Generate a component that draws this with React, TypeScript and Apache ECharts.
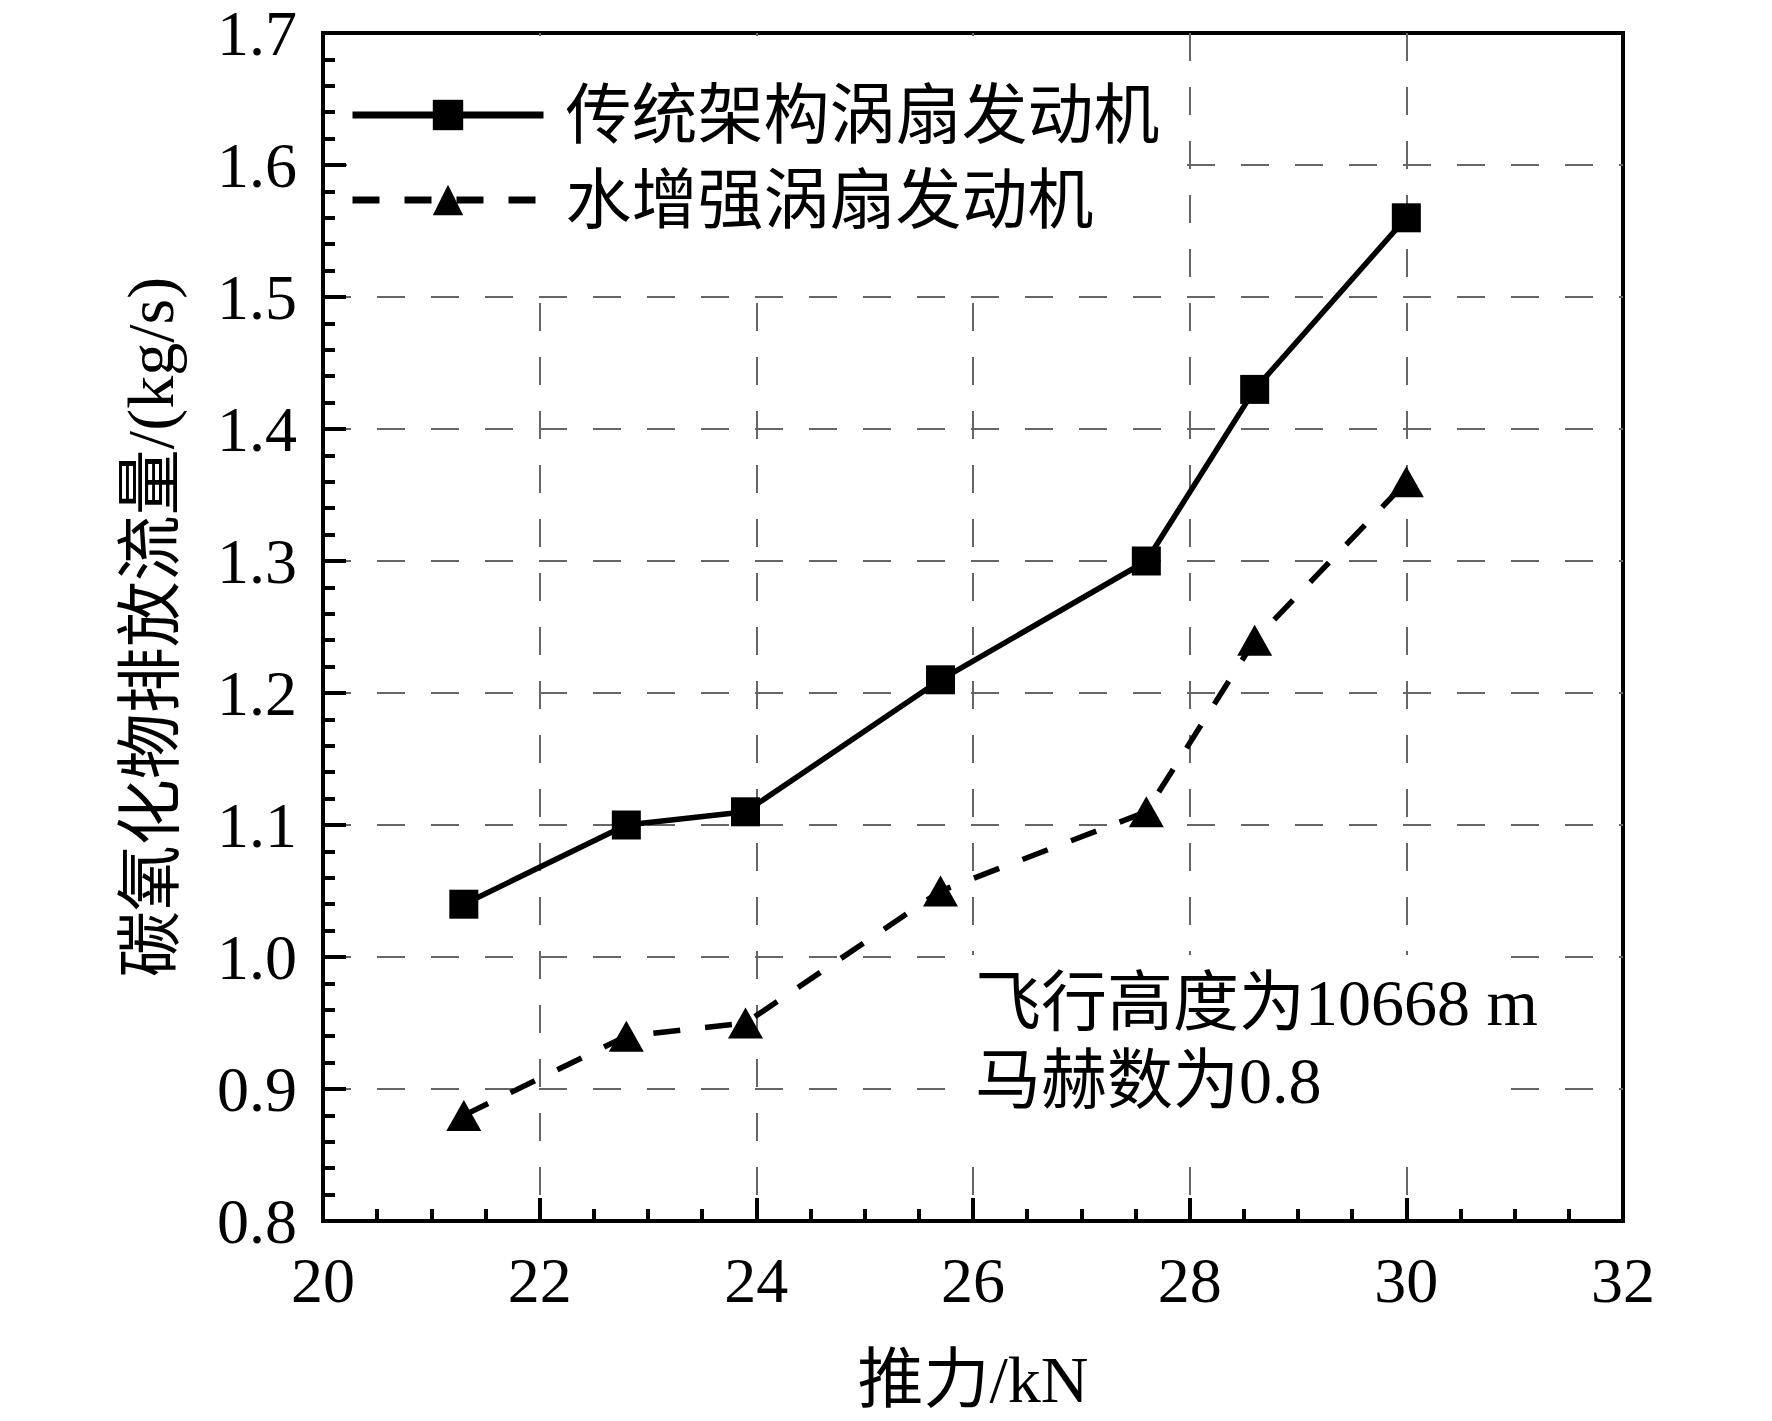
import React, { useEffect, useRef } from "react";
import * as echarts from "echarts";

const thrust = [21.3, 22.8, 23.9, 25.7, 27.6, 28.6, 30.0];
const conventional = [1.04, 1.10, 1.11, 1.21, 1.30, 1.43, 1.56];
const waterEnhanced = [0.88, 0.94, 0.95, 1.05, 1.11, 1.24, 1.36];
const seriesNames = ["传统架构涡扇发动机", "水增强涡扇发动机"];
const xAxisName = "推力/kN";
const yAxisName = "碳氧化物排放流量/(kg/s)";
const noteLines = ["飞行高度为10668 m", "马赫数为0.8"];

const FONT = "'Liberation Serif', 'Times New Roman', 'Noto Sans CJK SC', serif";

export default function App() {
  const ref = useRef<HTMLDivElement>(null);
  useEffect(() => {
    document.body.style.margin = "0";
    const chart = echarts.init(ref.current!, undefined, { renderer: "svg" });
    const axisCommon = {
      type: "value",
      nameLocation: "middle",
      nameTextStyle: { fontSize: 66, fontFamily: FONT, color: "#000" },
      axisLine: { show: true, lineStyle: { color: "#000", width: 4 } },
      axisTick: { show: true, inside: true, length: 23, lineStyle: { color: "#000", width: 4 } },
      splitLine: {
        show: true,
        showMinLine: false,
        showMaxLine: false,
        lineStyle: { color: "#666", width: 2, type: [28, 26] },
      },
    };
    const option = {
      animation: false,
      backgroundColor: "#fff",
      grid: {
        left: 323,
        top: 33,
        width: 1300,
        height: 1188,
        show: true,
        borderColor: "#000",
        borderWidth: 4,
        backgroundColor: "transparent",
      },
      legend: {
        left: 347,
        top: 36,
        orient: "vertical",
        backgroundColor: "#fff",
        padding: [46, 19, 57, 2],
        itemWidth: 191,
        itemHeight: 38,
        itemGap: 19,
        selectedMode: false,
        lineStyle: { width: 7 },
        textStyle: {
          fontSize: 66,
          lineHeight: 66,
          fontFamily: FONT,
          color: "#000",
          padding: [0, 0, 0, 17],
        },
        data: seriesNames,
      },
      xAxis: {
        ...axisCommon,
        min: 20,
        max: 32,
        interval: 2,
        name: xAxisName,
        nameGap: 125,
        minorTick: { show: true, splitNumber: 4, length: 12, lineStyle: { color: "#000", width: 4 } },
        axisLabel: { margin: 27, fontSize: 64, lineHeight: 64, fontFamily: FONT, color: "#000" },
      },
      yAxis: {
        ...axisCommon,
        min: 0.8,
        max: 1.7,
        interval: 0.1,
        name: yAxisName,
        nameGap: 140,
        minorTick: { show: true, splitNumber: 5, length: 12, lineStyle: { color: "#000", width: 4 } },
        axisLabel: {
          margin: 26,
          fontSize: 64,
          lineHeight: 50,
          fontFamily: FONT,
          color: "#000",
          formatter: (v: number) => v.toFixed(1),
        },
      },
      graphic: [
        {
          type: "rect",
          z: 50,
          shape: { x: 963, y: 955, width: 547, height: 192 },
          style: { fill: "#fff" },
        },
        {
          type: "text",
          z: 51,
          x: 975,
          y: 1002,
          style: {
            text: noteLines[0],
            font: `66px ${FONT}`,
            fill: "#000",
            textAlign: "left",
            textVerticalAlign: "middle",
          },
        },
        {
          type: "text",
          z: 51,
          x: 975,
          y: 1080,
          style: {
            text: noteLines[1],
            font: `66px ${FONT}`,
            fill: "#000",
            textAlign: "left",
            textVerticalAlign: "middle",
          },
        },
      ],
      series: [
        {
          name: seriesNames[0],
          type: "line",
          data: thrust.map((x, i) => [x, conventional[i]]),
          symbol: "rect",
          symbolSize: 29,
          color: "#000",
          itemStyle: { color: "#000" },
          lineStyle: { color: "#000", width: 5.5, type: "solid" },
          z: 3,
        },
        {
          name: seriesNames[1],
          type: "line",
          data: thrust.map((x, i) => [x, waterEnhanced[i]]),
          symbol: "triangle",
          symbolSize: [35, 31],
          color: "#000",
          itemStyle: { color: "#000" },
          lineStyle: { color: "#000", width: 5.5, type: [27, 25] },
          z: 3,
        },
      ],
    };
    chart.setOption(option as any);
    return () => chart.dispose();
  }, []);
  return <div ref={ref} style={{ width: 1772, height: 1421 }} />;
}
